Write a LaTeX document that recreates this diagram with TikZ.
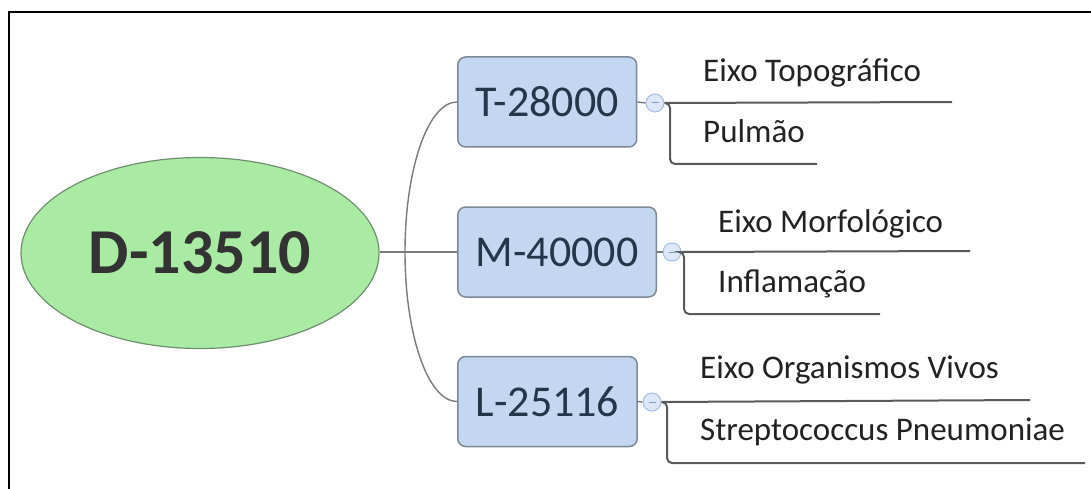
\documentclass[tikz,border=0pt]{standalone}
\usepackage{fontspec}
\setmainfont{Carlito}
\usetikzlibrary{shapes.geometric}

\definecolor{rootfill}{HTML}{A9EBA3}
\definecolor{rootdraw}{HTML}{6F8F6F}
\definecolor{boxfill}{HTML}{C3D7F0}
\definecolor{boxdraw}{HTML}{7D8896}
\definecolor{boxtext}{HTML}{26364A}
\definecolor{linkgray}{HTML}{7A7A7A}
\definecolor{leafline}{HTML}{5A5A5A}
\definecolor{leaftext}{HTML}{222222}
\definecolor{knobfill}{HTML}{DCE8F8}
\definecolor{knobdraw}{HTML}{A3BEE0}
\definecolor{knobminus}{HTML}{7E9CC4}

\tikzset{
  rootnode/.style={ellipse, draw=rootdraw, fill=rootfill, line width=1.2pt,
    minimum width=358pt, minimum height=191pt, inner sep=0pt,
    font=\fontsize{64}{70}\selectfont\bfseries, text=black!80},
  topicbox/.style={draw=boxdraw, fill=boxfill, line width=1.5pt, rounded corners=8pt,
    minimum height=90pt, inner xsep=18pt, anchor=west,
    font=\fontsize{44}{50}\selectfont, text=boxtext},
  link/.style={draw=linkgray, line width=1.4pt},
  leafline/.style={draw=leafline, line width=2pt, rounded corners=5pt},
  leaf/.style={anchor=base west, inner sep=0pt, text=leaftext,
    font=\fontsize{33}{38}\selectfont},
  knob/.style={circle, draw=knobdraw, fill=knobfill, line width=1pt,
    minimum size=18pt, inner sep=0pt,
    path picture={\draw[knobminus, line width=1pt]
      ([xshift=-3.5pt]path picture bounding box.center) --
      ([xshift=3.5pt]path picture bounding box.center);}},
}

\begin{document}
\begin{tikzpicture}[x=1pt, y=-1pt]
  % canvas and open frame
  \fill[white] (0,0) rectangle (1091,489);
  \useasboundingbox (0,0) rectangle (1091,489);
  \draw[line width=2.5pt, black] (9,489) -- (9,12) -- (1091,12);

  % central topic
  \node[rootnode] (root) at (200,253) {D-13510};

  % main topics
  \node[topicbox] (t) at (457,102) {T-28000};
  \node[topicbox] (m) at (457,252) {M-40000};
  \node[topicbox] (l) at (457,401.5) {L-25116};

  % connectors from the central topic: straight to the middle,
  % quarter-ellipse arcs to the upper and lower topics
  \coordinate (fork) at (405,252);
  \draw[link] (root.east |- m.west) -- (m.west);
  \draw[link] (fork) .. controls +(0,-83) and +(-29,0) .. (t.west);
  \draw[link] (fork) .. controls +(0,83) and +(-29,0) .. (l.west);

  % collapse knobs
  \node[knob] (tk) at (655,103) {};
  \node[knob] (mk) at (672,252) {};
  \node[knob] (lk) at (652,402) {};
  \draw[link] (t.east) -- (tk.west);
  \draw[link] (m.east) -- (mk.west);
  \draw[link] (l.east) -- (lk.west);

  % subtopics of T-28000
  \node[leaf] (t1) at (703,82) {Eixo Topográfico};
  \node[leaf] (t2) at (703,143) {Pulmão};
  \coordinate (t1end) at (952,102);
  \coordinate (t2end) at (817,164);
  \draw[leafline] (tk.east) -- (t1end);
  \draw[leafline] (tk.east) -| (670,164) -- (t2end);

  % subtopics of M-40000
  \node[leaf] (m1) at (718,232) {Eixo Morfológico};
  \node[leaf] (m2) at (718,292) {Inflamação};
  \coordinate (m1end) at (970,251);
  \coordinate (m2end) at (880,314);
  \draw[leafline] (mk.east) -- (m1end);
  \draw[leafline] (mk.east) -| (684,314) -- (m2end);

  % subtopics of L-25116
  \node[leaf] (l1) at (700,378) {Eixo Organismos Vivos};
  \node[leaf] (l2) at (700,440) {Streptococcus Pneumoniae};
  \coordinate (l1end) at (1030,400);
  \coordinate (l2end) at (1085,463);
  \draw[leafline] (lk.east) -- (l1end);
  \draw[leafline] (lk.east) -| (667,463) -- (l2end);
\end{tikzpicture}
\end{document}
